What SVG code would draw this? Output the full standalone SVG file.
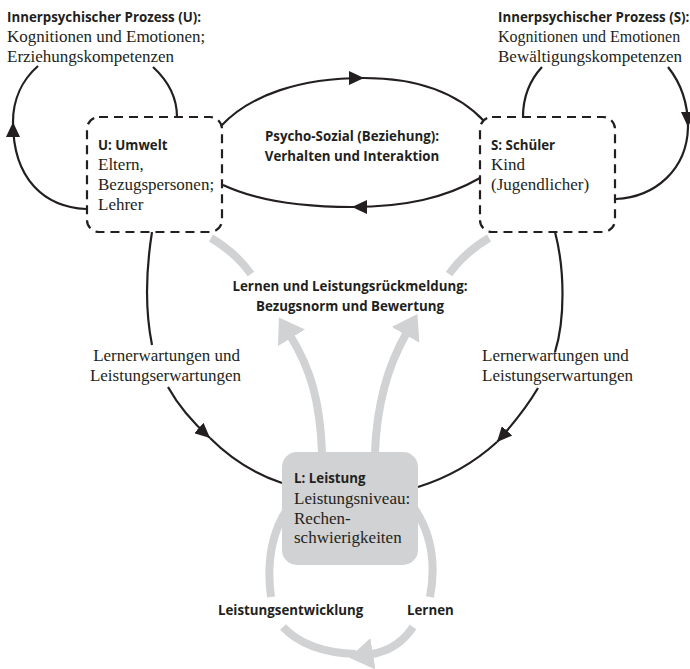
<svg xmlns="http://www.w3.org/2000/svg" width="690" height="669" viewBox="0 0 690 669">
<style>
.b{font-family:"Open Sans","Noto Sans",sans-serif;font-weight:700;font-size:13.3px;fill:#231f20}
.s{font-family:"Liberation Serif","DejaVu Serif",serif;font-size:17px;fill:#231f20}
.m{text-anchor:middle}
.e{text-anchor:end}
.k{fill:none;stroke:#231f20;stroke-width:2.2}
.g{fill:none;stroke:#d1d2d4;stroke-width:8}
.box{fill:#fff;stroke:#231f20;stroke-width:2.2;stroke-dasharray:9 6}
</style>
<defs>
<marker id="ah" markerUnits="userSpaceOnUse" markerWidth="16" markerHeight="14" refX="15" refY="7" orient="auto"><path d="M0,0 L15,7 L0,14 z" fill="#231f20"/></marker>
<marker id="gh" markerUnits="userSpaceOnUse" markerWidth="25" markerHeight="32" refX="1" refY="16" orient="auto"><path d="M0,0 L24,16 L0,32 z" fill="#d1d2d4"/></marker>
</defs>
<rect width="690" height="669" fill="#fff"/>
<g id="connectors">
<path class="g" d="M211,238 Q235,252 251,274"/>
<path class="g" d="M489,238 Q465,252 449,274"/>
<path class="g" d="M322,452 C320,400 310,368 291,337" marker-end="url(#gh)"/>
<path class="g" d="M375,452 C377,400 390,362 406,334" marker-end="url(#gh)"/>
<path class="g" d="M290,505 C272,530 266,560 271,597"/>
<path class="g" d="M283,627 C300,645 325,653 356,654"/>
<path class="g" d="M412,505 C430,530 437,560 430,597"/>
<path class="g" d="M413,627 C403,642 390,651 372,654" marker-end="url(#gh)"/>
<path class="k" d="M221,126 C250,95 300,78 364,78" marker-end="url(#ah)"/>
<path class="k" d="M364,78 C420,78 460,95 485,122"/>
<path class="k" d="M480,178 C445,198 405,207 352,207" marker-end="url(#ah)"/>
<path class="k" d="M352,207 C300,207 255,200 223,185"/>
<path class="k" d="M86,209 C45,207 13,180 13,122" marker-end="url(#ah)"/>
<path class="k" d="M13,122 C13,100 22,80 38,66"/>
<path class="k" d="M153,67 C165,78 177,95 177,117"/>
<path class="k" d="M523,117 C523,95 530,80 542,67"/>
<path class="k" d="M668,67 C680,82 688,100 688,127" marker-end="url(#ah)"/>
<path class="k" d="M688,127 C687,170 655,197 616,199"/>
<path class="k" d="M152,232 C146,270 145,310 152,345"/>
<path class="k" d="M168,387 C178,405 190,420 210,438" marker-end="url(#ah)"/>
<path class="k" d="M210,438 C232,460 255,474 282,483"/>
<path class="k" d="M555,232 C565,270 565,320 555,352"/>
<path class="k" d="M538,388 C528,405 515,422 497,442" marker-end="url(#ah)"/>
<path class="k" d="M497,442 C475,462 450,477 418,487"/>
</g>
<g id="node-U">
<rect class="box" x="87" y="117" width="135" height="115" rx="12"/>
<text class="b" x="98" y="150">U: Umwelt</text>
<text class="s" x="98" y="170">Eltern,</text>
<text class="s" x="98" y="190">Bezugspersonen;</text>
<text class="s" x="98" y="210">Lehrer</text>
</g>
<g id="node-S">
<rect class="box" x="480" y="117" width="135" height="115" rx="12"/>
<text class="b" x="491" y="150">S: Schüler</text>
<text class="s" x="491" y="170">Kind</text>
<text class="s" x="491" y="190">(Jugendlicher)</text>
</g>
<g id="node-L">
<rect x="282" y="452" width="136" height="113" rx="15" fill="#d1d2d4"/>
<text class="b" x="294" y="483">L: Leistung</text>
<text class="s" x="294" y="504">Leistungsniveau:</text>
<text class="s" x="294" y="524">Rechen-</text>
<text class="s" x="294" y="543">schwierigkeiten</text>
</g>
<g id="label-innerU">
<text class="b" x="7" y="22">Innerpsychischer Prozess (U):</text>
<text class="s" x="7" y="42">Kognitionen und Emotionen;</text>
<text class="s" x="7" y="62">Erziehungskompetenzen</text>
</g>
<g id="label-innerS">
<text class="b" x="498" y="22">Innerpsychischer Prozess (S):</text>
<text class="s" x="498" y="42" style="font-size:16px">Kognitionen und Emotionen</text>
<text class="s" x="498" y="62">Bewältigungskompetenzen</text>
</g>
<g id="label-psycho">
<text class="b m" x="352" y="141">Psycho-Sozial (Beziehung):</text>
<text class="b m" x="352" y="161">Verhalten und Interaktion</text>
</g>
<g id="label-lernen">
<text class="b m" x="350" y="291">Lernen und Leistungsrückmeldung:</text>
<text class="b m" x="350" y="311">Bezugsnorm und Bewertung</text>
</g>
<g id="label-erwU">
<text class="s e" x="240" y="361">Lernerwartungen und</text>
<text class="s e" x="241" y="381">Leistungserwartungen</text>
</g>
<g id="label-erwS">
<text class="s" x="482" y="361">Lernerwartungen und</text>
<text class="s" x="482" y="381">Leistungserwartungen</text>
</g>
<g id="label-bottom">
<text class="b" x="218" y="615">Leistungsentwicklung</text>
<text class="b" x="407" y="615">Lernen</text>
</g>
</svg>
